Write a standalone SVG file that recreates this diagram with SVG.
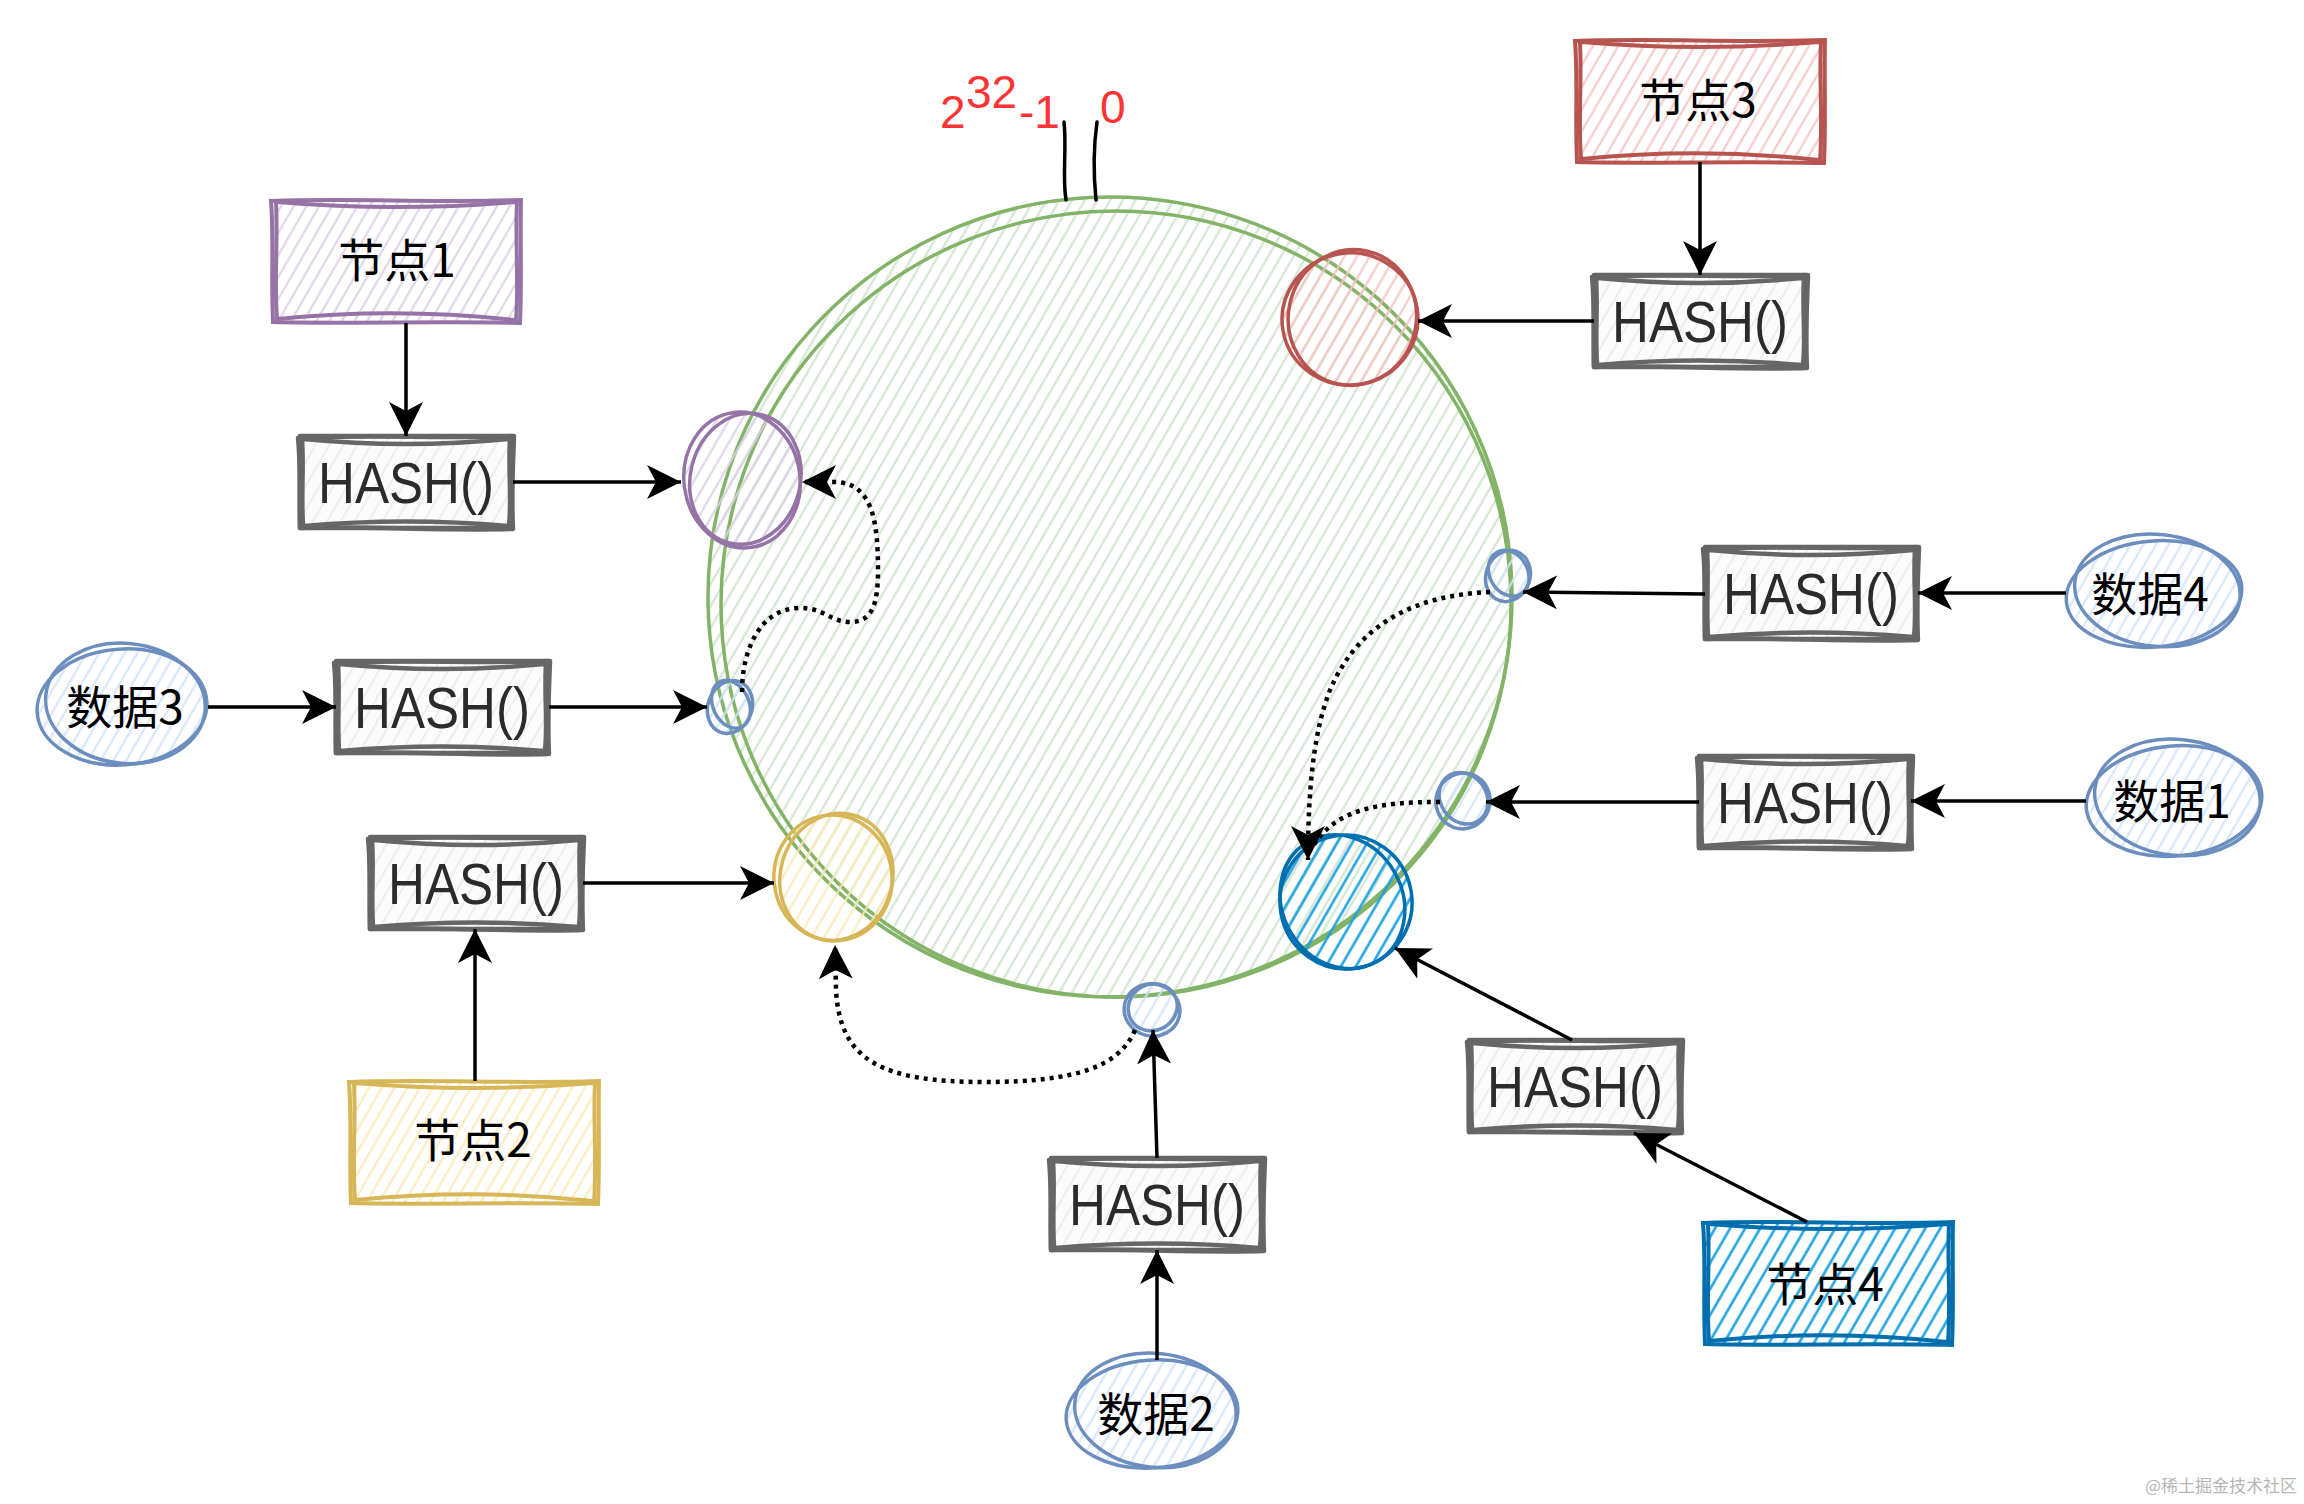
<svg xmlns="http://www.w3.org/2000/svg" xmlns:xlink="http://www.w3.org/1999/xlink" width="2304" height="1504" viewBox="0 0 2304 1504">
<style>
.cjk{font-family:"Noto Sans CJK SC","Noto Sans",sans-serif;font-size:46px;font-weight:400;fill:#000;text-anchor:middle}
.hash{font-family:"Liberation Sans",Arial,sans-serif;font-size:58px;fill:#2b2b2b;text-anchor:middle}
.red{font-family:"Liberation Sans",Arial,sans-serif;font-size:46px;fill:#ff3333}
.hb{fill:none;stroke:#666;stroke-width:4.5;stroke-linecap:round;stroke-linejoin:round}
.sk{fill:none;stroke-width:3.5;stroke-linecap:round}
.con{fill:none;stroke:#000;stroke-width:3.5;marker-end:url(#ah)}
.dot{fill:none;stroke:#000;stroke-width:4.5;stroke-dasharray:4 5}
</style>
<defs>
<pattern id="hG" patternUnits="userSpaceOnUse" width="11" height="11" patternTransform="rotate(30)"><line x1="5.5" y1="0" x2="5.5" y2="11" stroke="#cfe3cd" stroke-width="2"/></pattern>
<pattern id="hGray" patternUnits="userSpaceOnUse" width="12" height="12" patternTransform="rotate(30)"><rect width="12" height="12" fill="#fcfcfc"/><line x1="6" y1="0" x2="6" y2="12" stroke="#e8e8e8" stroke-width="1.5"/></pattern>
<pattern id="hP" patternUnits="userSpaceOnUse" width="11" height="11" patternTransform="rotate(30)"><line x1="5.5" y1="0" x2="5.5" y2="11" stroke="#ddd0e6" stroke-width="2"/></pattern>
<pattern id="hR" patternUnits="userSpaceOnUse" width="11" height="11" patternTransform="rotate(30)"><line x1="5.5" y1="0" x2="5.5" y2="11" stroke="#f5c4c2" stroke-width="2"/></pattern>
<pattern id="hY" patternUnits="userSpaceOnUse" width="11" height="11" patternTransform="rotate(30)"><line x1="5.5" y1="0" x2="5.5" y2="11" stroke="#fbeab8" stroke-width="2"/></pattern>
<pattern id="hB" patternUnits="userSpaceOnUse" width="13" height="13" patternTransform="rotate(30)"><line x1="6.5" y1="0" x2="6.5" y2="13" stroke="#1ba1e2" stroke-width="2.5"/></pattern>
<pattern id="hD" patternUnits="userSpaceOnUse" width="11" height="11" patternTransform="rotate(30)"><line x1="5.5" y1="0" x2="5.5" y2="11" stroke="#d3e3fb" stroke-width="2"/></pattern>
<marker id="ah" markerUnits="userSpaceOnUse" markerWidth="36" markerHeight="36" viewBox="0 0 36 36" refX="34" refY="18" orient="auto"><path d="M0,1 L34,18 L0,35 L9,18 Z" fill="#000"/></marker>
<g id="hashOutline">
<rect x="0" y="0" width="212" height="92" fill="url(#hGray)"/>
<path d="M-2,2 C70,-2 140,3 214,0 C213,30 211,60 213,93 C140,95 70,90 0,92 C-1,60 1,30 -2,2 Z"/>
<path d="M4,3 Q106,13 208,3 M4,90 Q106,81 208,90 M2,4 C4,30 1,60 3,88 M210,3 C208,35 212,60 209,90"/>
</g>
<g id="nodeOutline">
<path d="M-2,1 C80,-2 160,3 248,0 C247,40 249,80 247,123 C160,121 80,124 0,122 C-2,80 1,40 -2,1 Z"/>
<path d="M4,2 Q123,12 242,2 M4,119 Q123,107 242,120 M3,3 C5,40 1,80 4,119 M244,2 C242,40 246,80 243,121"/>
</g>
</defs>
<rect width="2304" height="1504" fill="#fff"/>

<g id="ring">
<ellipse cx="1110" cy="597" rx="401" ry="401" fill="url(#hG)"/>
<ellipse cx="1110" cy="597" rx="402" ry="400" class="sk" stroke="#82b366" stroke-width="4" transform="rotate(-3 1110 597)"/>
<ellipse cx="1116" cy="604" rx="395" ry="393" class="sk" stroke="#82b366" stroke-width="3"/>
<path d="M1064,122 C1067,150 1062,175 1066,200" fill="none" stroke="#000" stroke-width="3.5" stroke-linecap="round"/>
<path d="M1097,122 C1093,150 1094,180 1096,200" fill="none" stroke="#000" stroke-width="3.5" stroke-linecap="round"/>
<text class="red" x="940" y="128">2</text>
<text class="red" x="966" y="108">32</text>
<text class="red" x="1019" y="128">-1</text>
<text class="red" x="1100" y="123">0</text>
</g>

<g id="ring-node1">
<ellipse cx="742" cy="480" rx="58" ry="68" fill="url(#hP)"/>
<ellipse cx="742" cy="480" rx="58" ry="68" class="sk" stroke="#9673a6" transform="rotate(-8 742 480)"/>
<ellipse cx="745" cy="478" rx="55" ry="66" class="sk" stroke="#9673a6" transform="rotate(14 742 480)"/>
</g>
<g id="ring-node3">
<ellipse cx="1350" cy="319" rx="68" ry="66" fill="url(#hR)"/>
<ellipse cx="1350" cy="319" rx="68" ry="66" class="sk" stroke="#b85450" transform="rotate(-10 1350 319)"/>
<ellipse cx="1352" cy="317" rx="64" ry="68" class="sk" stroke="#b85450" transform="rotate(12 1350 319)"/>
</g>
<g id="ring-node2">
<ellipse cx="833" cy="878" rx="59" ry="63" fill="url(#hY)"/>
<ellipse cx="833" cy="878" rx="59" ry="63" class="sk" stroke="#d6b656" transform="rotate(-8 833 878)"/>
<ellipse cx="836" cy="876" rx="56" ry="64" class="sk" stroke="#d6b656" transform="rotate(15 833 878)"/>
</g>
<g id="ring-node4">
<ellipse cx="1346" cy="902" rx="66" ry="67" fill="url(#hB)"/>
<ellipse cx="1346" cy="902" rx="66" ry="67" class="sk" stroke="#006eaf" transform="rotate(-10 1346 902)"/>
<ellipse cx="1343" cy="900" rx="60" ry="69" class="sk" stroke="#006eaf" transform="rotate(-30 1346 902)"/>
</g>
<g id="mark-data3">
<ellipse cx="730" cy="707" rx="22" ry="27" fill="url(#hD)"/>
<ellipse cx="730" cy="707" rx="22" ry="27" class="sk" stroke="#6c8ebf" transform="rotate(20 730 707)"/>
<ellipse cx="732" cy="705" rx="18" ry="25" class="sk" stroke="#6c8ebf" transform="rotate(-25 730 707)"/>
</g>
<g id="mark-data4">
<ellipse cx="1508" cy="576" rx="22" ry="26" fill="url(#hD)"/>
<ellipse cx="1508" cy="576" rx="22" ry="26" class="sk" stroke="#6c8ebf" transform="rotate(20 1508 576)"/>
<ellipse cx="1510" cy="574" rx="19" ry="24" class="sk" stroke="#6c8ebf" transform="rotate(-30 1508 576)"/>
</g>
<g id="mark-data1">
<ellipse cx="1463" cy="801" rx="27" ry="28" fill="url(#hD)"/>
<ellipse cx="1463" cy="801" rx="27" ry="28" class="sk" stroke="#6c8ebf" transform="rotate(20 1463 801)"/>
<ellipse cx="1465" cy="799" rx="23" ry="27" class="sk" stroke="#6c8ebf" transform="rotate(-35 1463 801)"/>
</g>
<g id="mark-data2">
<ellipse cx="1152" cy="1010" rx="28" ry="26" fill="url(#hD)"/>
<ellipse cx="1152" cy="1010" rx="28" ry="26" class="sk" stroke="#6c8ebf" transform="rotate(15 1152 1010)"/>
<ellipse cx="1154" cy="1008" rx="25" ry="23" class="sk" stroke="#6c8ebf" transform="rotate(-30 1152 1010)"/>
</g>

<g id="node1">
<rect x="273" y="200" width="246" height="122" fill="url(#hP)"/>
<use xlink:href="#nodeOutline" x="273" y="200" fill="none" stroke="#9673a6" stroke-width="4" stroke-linecap="round"/>
<text class="cjk" x="397" y="277">节点1</text>
</g>
<g id="node3">
<rect x="1577" y="40" width="246" height="122" fill="url(#hR)"/>
<use xlink:href="#nodeOutline" x="1577" y="40" fill="none" stroke="#b85450" stroke-width="4" stroke-linecap="round"/>
<text class="cjk" x="1698" y="117">节点3</text>
</g>
<g id="node2">
<rect x="351" y="1081" width="246" height="122" fill="url(#hY)"/>
<use xlink:href="#nodeOutline" x="351" y="1081" fill="none" stroke="#d6b656" stroke-width="4" stroke-linecap="round"/>
<text class="cjk" x="473" y="1157">节点2</text>
</g>
<g id="node4">
<rect x="1705" y="1222" width="246" height="122" fill="url(#hB)"/>
<use xlink:href="#nodeOutline" x="1705" y="1222" fill="none" stroke="#006eaf" stroke-width="4" stroke-linecap="round"/>
<text class="cjk" x="1825" y="1301">节点4</text>
</g>

<g id="data3">
<ellipse cx="122" cy="707" rx="85" ry="58" fill="url(#hD)"/>
<ellipse cx="122" cy="707" rx="85" ry="58" class="sk" stroke="#6c8ebf" transform="rotate(-4 122 707)"/>
<ellipse cx="125" cy="703" rx="80" ry="60" class="sk" stroke="#6c8ebf" transform="rotate(6 122 707)"/>
<text class="cjk" x="125" y="724">数据3</text>
</g>
<g id="data4">
<ellipse cx="2154" cy="594" rx="88" ry="53" fill="url(#hD)"/>
<ellipse cx="2154" cy="594" rx="88" ry="53" class="sk" stroke="#6c8ebf" transform="rotate(-5 2154 594)"/>
<ellipse cx="2157" cy="590" rx="83" ry="56" class="sk" stroke="#6c8ebf" transform="rotate(6 2154 594)"/>
<text class="cjk" x="2150" y="611">数据4</text>
</g>
<g id="data1">
<ellipse cx="2174" cy="801" rx="88" ry="55" fill="url(#hD)"/>
<ellipse cx="2174" cy="801" rx="88" ry="55" class="sk" stroke="#6c8ebf" transform="rotate(-5 2174 801)"/>
<ellipse cx="2177" cy="797" rx="83" ry="58" class="sk" stroke="#6c8ebf" transform="rotate(6 2174 801)"/>
<text class="cjk" x="2172" y="818">数据1</text>
</g>
<g id="data2">
<ellipse cx="1152" cy="1414" rx="86" ry="54" fill="url(#hD)"/>
<ellipse cx="1152" cy="1414" rx="86" ry="54" class="sk" stroke="#6c8ebf" transform="rotate(-4 1152 1414)"/>
<ellipse cx="1155" cy="1410" rx="81" ry="57" class="sk" stroke="#6c8ebf" transform="rotate(6 1152 1414)"/>
<text class="cjk" x="1156" y="1431">数据2</text>
</g>

<g id="hash-node1"><use xlink:href="#hashOutline" x="300" y="436" class="hb"/><text class="hash" x="406" y="503" textLength="176" lengthAdjust="spacingAndGlyphs">HASH()</text></g>
<g id="hash-node3"><use xlink:href="#hashOutline" x="1594" y="275" class="hb"/><text class="hash" x="1700" y="342" textLength="176" lengthAdjust="spacingAndGlyphs">HASH()</text></g>
<g id="hash-data3"><use xlink:href="#hashOutline" x="336" y="661" class="hb"/><text class="hash" x="442" y="728" textLength="176" lengthAdjust="spacingAndGlyphs">HASH()</text></g>
<g id="hash-node2"><use xlink:href="#hashOutline" x="370" y="837" class="hb"/><text class="hash" x="476" y="904" textLength="176" lengthAdjust="spacingAndGlyphs">HASH()</text></g>
<g id="hash-data2"><use xlink:href="#hashOutline" x="1051" y="1158" class="hb"/><text class="hash" x="1157" y="1225" textLength="176" lengthAdjust="spacingAndGlyphs">HASH()</text></g>
<g id="hash-data4"><use xlink:href="#hashOutline" x="1705" y="547" class="hb"/><text class="hash" x="1811" y="614" textLength="176" lengthAdjust="spacingAndGlyphs">HASH()</text></g>
<g id="hash-data1"><use xlink:href="#hashOutline" x="1699" y="756" class="hb"/><text class="hash" x="1805" y="823" textLength="176" lengthAdjust="spacingAndGlyphs">HASH()</text></g>
<g id="hash-node4"><use xlink:href="#hashOutline" x="1469" y="1040" class="hb"/><text class="hash" x="1575" y="1107" textLength="176" lengthAdjust="spacingAndGlyphs">HASH()</text></g>

<g id="connectors">
<path class="con" d="M406,323 L406,436"/>
<path class="con" d="M513,482 L681,482"/>
<path class="con" d="M1700,162 L1700,275"/>
<path class="con" d="M1594,321 L1418,321"/>
<path class="con" d="M208,707 L336,707"/>
<path class="con" d="M549,707 L707,707"/>
<path class="con" d="M583,883 L774,883"/>
<path class="con" d="M475,1081 L475,929"/>
<path class="con" d="M1157,1158 L1153,1030"/>
<path class="con" d="M1157,1360 L1157,1250"/>
<path class="con" d="M2066,593 L1918,593"/>
<path class="con" d="M1705,594 L1523,592"/>
<path class="con" d="M2086,801 L1911,801"/>
<path class="con" d="M1699,802 L1486,802"/>
<path class="con" d="M1572,1040 L1395,948"/>
<path class="con" d="M1807,1222 L1634,1133"/>
<path class="dot" d="M742,692 C742,650 760,608 800,608 C825,608 830,622 850,622 C872,622 878,605 878,570 C878,520 872,483 835,482 L802,482" marker-end="url(#ah)"/>
<path class="dot" d="M1135,1030 C1120,1065 1080,1082 985,1082 C880,1082 840,1060 836,990 L835,945" marker-end="url(#ah)"/>
<path class="dot" d="M1490,592 C1420,595 1360,620 1330,690 C1312,735 1308,800 1308,860" marker-end="url(#ah)"/>
<path class="dot" d="M1440,802 C1380,802 1335,808 1312,848"/>
</g>
<text x="2297" y="1492" text-anchor="end" font-family="'Noto Sans CJK SC',sans-serif" font-size="17" fill="#b5b5b5">@稀土掘金技术社区</text>
</svg>
